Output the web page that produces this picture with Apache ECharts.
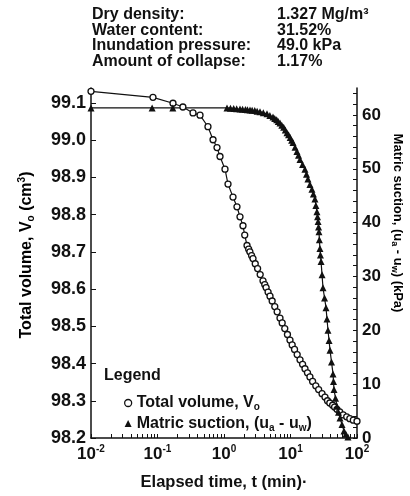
<!DOCTYPE html>
<html>
<head>
<meta charset="utf-8">
<script src="https://cdn.jsdelivr.net/npm/echarts@6/dist/echarts.min.js"></script>
<style>
html,body{margin:0;padding:0;background:#fff;}
#chart{width:410px;height:496px;}
</style>
</head>
<body>
<div id="chart"></div>
<script>
// ---- data ----
const timeVolume = [0.01, 0.0855, 0.171, 0.241, 0.342, 0.436, 0.574, 0.684, 0.785, 0.871, 1.035, 1.149, 1.366, 1.567, 1.74, 1.93, 2.05, 2.22, 2.35, 2.45, 2.6, 2.73, 2.95, 3.2, 3.5, 3.86, 4.1, 4.3, 4.6, 4.92, 5.3, 5.8, 6.3, 6.95, 7.5, 8.2, 9.0, 9.82, 10.6, 11.5, 12.6, 13.9, 15.2, 16.5, 18, 19.6, 21.5, 24, 26.5, 29.8, 33, 36, 39, 43, 46, 50, 55, 62, 70, 78, 88, 100];
const volume = [99.131, 99.115, 99.099, 99.089, 99.073, 99.067, 99.036, 99.001, 98.980, 98.956, 98.922, 98.882, 98.847, 98.821, 98.794, 98.770, 98.745, 98.717, 98.707, 98.700, 98.690, 98.682, 98.668, 98.655, 98.639, 98.622, 98.612, 98.604, 98.592, 98.581, 98.568, 98.553, 98.539, 98.522, 98.509, 98.494, 98.478, 98.463, 98.450, 98.438, 98.424, 98.410, 98.398, 98.386, 98.375, 98.364, 98.352, 98.340, 98.330, 98.319, 98.310, 98.300, 98.294, 98.288, 98.283, 98.277, 98.270, 98.262, 98.257, 98.252, 98.248, 98.245];

const timeSuction = [0.01, 0.083, 0.17, 1.11, 1.25, 1.4, 1.55, 1.74, 1.9, 2.1, 2.25, 2.46, 2.65, 2.9, 3.15, 3.48, 3.9, 4.43, 4.9, 5.46, 5.8, 6.2, 6.55, 6.95, 7.4, 7.9, 8.35, 8.85, 9.35, 9.9, 10.4, 10.9, 11.7, 12.5, 13.2, 13.9, 15.2, 16.5, 17.4, 18.3, 19.6, 21.0, 22.1, 23.3, 24.1, 25.0, 25.5, 26.0, 26.4, 26.8, 27.2, 27.7, 28.2, 28.8, 29.8, 30.8, 32.5, 34.2, 35.4, 36.6, 38, 39.3, 41.4, 43.6, 44.3, 45.1, 47.5, 50, 52.7, 55.5, 59.5, 63.8, 68, 73];
const suction = [61.3, 61.3, 61.3, 61.3, 61.25, 61.2, 61.15, 61.1, 61.05, 61.0, 60.95, 60.9, 60.85, 60.8, 60.7, 60.6, 60.4, 60.2, 59.9, 59.6, 59.35, 59.1, 58.8, 58.5, 58.1, 57.7, 57.2, 56.7, 56.3, 55.8, 55.3, 54.9, 54.0, 53.2, 52.5, 51.7, 50.8, 49.9, 49.0, 48.1, 47.1, 46.2, 45.3, 44.4, 43.2, 42.0, 41.1, 40.2, 39.2, 38.3, 36.8, 35.2, 34.0, 32.8, 30.3, 27.9, 26.0, 24.2, 22.1, 20.0, 18.1, 16.3, 14.1, 11.9, 10.5, 9.0, 7.4, 5.9, 4.8, 3.7, 2.5, 1.3, 0.7, 0.2];

const volumeTicks = [98.2, 98.3, 98.4, 98.5, 98.6, 98.7, 98.8, 98.9, 99.0, 99.1];
const suctionLabels = [0, 10, 20, 30, 40, 50, 60];
const suctionMinorTicks = [0,2,4,6,8,10,12,14,16,18,20,22,24,26,28,30,32,34,36,38,40,42,44,46,48,50,52,54,56,58,60,62,64];
const timeDecades = [0.01, 0.1, 1, 10, 100];
const timeMinorTicks = [0.01,0.02,0.03,0.04,0.05,0.06,0.07,0.08,0.09,0.1,0.2,0.3,0.4,0.5,0.6,0.7,0.8,0.9,1,2,3,4,5,6,7,8,9,10,20,30,40,50,60,70,80,90,100];

const infoLabels = ['Dry density:', 'Water content:', 'Inundation pressure:', 'Amount of collapse:'];
const infoValues = ['1.327 Mg/m³', '31.52%', '49.0 kPa', '1.17%'];

const FONT = '"Liberation Sans", Arial, sans-serif';
const chart = echarts.init(document.getElementById('chart'), null, {renderer: 'canvas'});

const info = [];
infoLabels.forEach((t, i) => {
  info.push({type: 'text', left: 92, top: 7 + i * 15.5, style: {text: t, font: 'bold 16px ' + FONT, fill: '#111'}});
  info.push({type: 'text', left: 277, top: 7 + i * 15.5, style: {text: infoValues[i], font: 'bold 16px ' + FONT, fill: '#111'}});
});

function rich(size, subSize) {
  return {
    b: {fontSize: size, fontWeight: 'bold', fontFamily: FONT, color: '#111', lineHeight: size + 3},
    sub: {fontSize: subSize, fontWeight: 'bold', fontFamily: FONT, color: '#111', lineHeight: subSize + 3, verticalAlign: 'bottom'},
    sup: {fontSize: subSize, fontWeight: 'bold', fontFamily: FONT, color: '#111', lineHeight: subSize + 3, verticalAlign: 'top'}
  };
}

chart.setOption({
  animation: false,
  backgroundColor: '#fff',
  grid: {left: 91, right: 53, top: 88, bottom: 54},
  xAxis: {
    type: 'log', logBase: 10, min: 0.01, max: 100,
    name: 'Elapsed time, t (min)·', nameLocation: 'middle', nameGap: 36,
    nameTextStyle: {fontSize: 16.5, fontWeight: 'bold', fontFamily: FONT, color: '#111'},
    axisLine: {lineStyle: {color: '#111', width: 1.5}},
    axisTick: {inside: true, length: 4, customValues: timeMinorTicks, lineStyle: {color: '#111'}},
    axisLabel: {
      customValues: timeDecades, margin: 6,
      formatter: v => '{b|10}{sup|' + Math.round(Math.log10(v)) + '}',
      rich: {
        b: {fontSize: 17, fontWeight: 'bold', fontFamily: FONT, color: '#111', lineHeight: 20},
        sup: {fontSize: 10, fontWeight: 'bold', fontFamily: FONT, color: '#111', lineHeight: 12, verticalAlign: 'top'}
      }
    },
    splitLine: {show: false}
  },
  yAxis: [{
    type: 'value', min: 98.2, max: 99.14, position: 'left',
    axisLine: {show: true, lineStyle: {color: '#111', width: 1.5}},
    axisTick: {show: true, inside: true, length: 5, customValues: volumeTicks, lineStyle: {color: '#111'}},
    axisLabel: {customValues: volumeTicks, formatter: v => v.toFixed(1), fontSize: 18, fontWeight: 'bold', fontFamily: FONT, color: '#111', margin: 5},
    splitLine: {show: false}
  }, {
    type: 'value', min: 0, max: 65, position: 'right',
    axisLine: {show: true, lineStyle: {color: '#111', width: 1.5}},
    axisTick: {show: true, inside: true, length: 4, customValues: suctionMinorTicks, lineStyle: {color: '#111'}},
    axisLabel: {customValues: suctionLabels, fontSize: 17, fontWeight: 'bold', fontFamily: FONT, color: '#111', margin: 5},
    splitLine: {show: false}
  }],
  legend: {
    left: 119, top: 390, orient: 'vertical', itemGap: 3, itemWidth: 7, itemHeight: 7,
    textStyle: {rich: rich(16, 10), fontSize: 16, fontWeight: 'bold', fontFamily: FONT, color: '#111'},
    formatter: name => name === 'Total volume'
      ? '{b|Total volume, V}{sub|o}'
      : '{b|Matric suction, (u}{sub|a}{b| - u}{sub|w}{b|)}',
    data: [
      {name: 'Total volume', icon: 'circle', itemStyle: {color: '#fff', borderColor: '#111', borderWidth: 1.3}},
      {name: 'Matric suction', icon: 'triangle', itemStyle: {color: '#111'}}
    ]
  },
  graphic: info.concat([
    {type: 'text', left: 104, top: 368, style: {text: 'Legend', font: 'bold 16px ' + FONT, fill: '#111'}},
    {type: 'text', x: 27, y: 255, rotation: Math.PI / 2,
      style: {text: '{b|Total volume, V}{sub|o}{b| (cm}{sup|3}{b|)}', rich: rich(16, 10), align: 'center', verticalAlign: 'middle'}},
    {type: 'text', x: 398, y: 223, rotation: -Math.PI / 2,
      style: {text: '{b|Matric suction, (u}{sub|a}{b| - u}{sub|w}{b|) (kPa)}', rich: rich(13, 9), align: 'center', verticalAlign: 'middle'}}
  ]),
  series: [{
    name: 'Total volume', type: 'line', yAxisIndex: 0,
    data: timeVolume.map((t, i) => [t, volume[i]]),
    symbol: 'circle', symbolSize: 6,
    itemStyle: {color: '#fff', borderColor: '#111', borderWidth: 1.3},
    lineStyle: {color: '#111', width: 1.2}
  }, {
    name: 'Matric suction', type: 'line', yAxisIndex: 1,
    data: timeSuction.map((t, i) => [t, suction[i]]),
    symbol: 'triangle', symbolSize: 7,
    itemStyle: {color: '#111'},
    lineStyle: {color: '#111', width: 1.2}
  }]
});
</script>
</body>
</html>
